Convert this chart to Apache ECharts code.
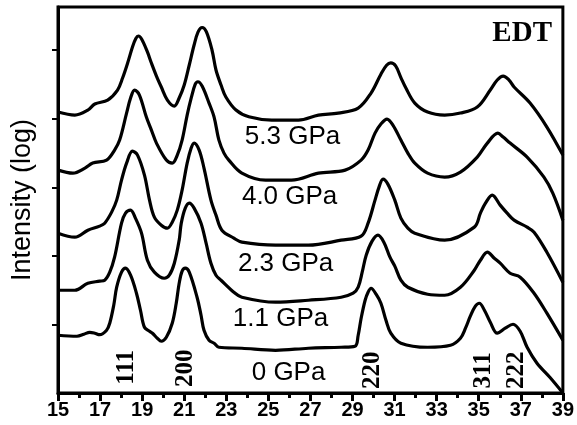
<!DOCTYPE html>
<html>
<head>
<meta charset="utf-8">
<script src="https://cdn.jsdelivr.net/npm/echarts@6/dist/echarts.min.js"></script>
<style>
html,body{margin:0;padding:0;background:#fff;}
#chart{width:577px;height:425px;}
</style>
</head>
<body>
<div id="chart"></div>
<script>
// 2theta (deg) vs log intensity (arbitrary offset units)
const curve_5_3GPa = [[15.00,4.098],[15.80,4.054],[16.42,4.127],[16.75,4.215],[17.36,4.273],[17.83,4.419],[18.07,4.594],[18.31,4.813],[18.54,5.047],[18.70,5.170],[18.82,5.207],[18.98,5.160],[19.25,4.974],[19.44,4.813],[19.68,4.623],[19.91,4.463],[20.20,4.273],[20.53,4.185],[20.76,4.302],[21.00,4.492],[21.24,4.784],[21.47,5.076],[21.66,5.266],[21.85,5.331],[22.05,5.270],[22.32,5.003],[22.51,4.711],[22.75,4.492],[22.98,4.317],[23.46,4.127],[24.07,4.029],[25.16,3.981],[26.43,3.981],[27.38,4.054],[28.32,4.083],[29.27,4.156],[29.88,4.375],[30.35,4.650],[30.62,4.780],[30.82,4.815],[31.05,4.770],[31.30,4.600],[31.55,4.440],[31.96,4.229],[32.57,4.098],[33.38,4.054],[34.13,4.083],[34.93,4.171],[35.55,4.419],[35.88,4.565],[36.16,4.623],[36.44,4.565],[36.68,4.463],[37.44,4.229],[38.24,3.879],[39.00,3.470]];
const curve_4_0GPa = [[15.00,3.251],[15.71,3.207],[16.28,3.280],[16.65,3.353],[17.31,3.397],[17.69,3.543],[17.93,3.689],[18.26,4.083],[18.45,4.302],[18.64,4.419],[18.87,4.346],[19.20,4.025],[19.44,3.835],[19.68,3.645],[20.15,3.397],[20.43,3.353],[20.67,3.470],[20.90,3.689],[21.14,4.054],[21.33,4.300],[21.52,4.500],[21.65,4.540],[21.85,4.477],[22.18,4.229],[22.42,4.025],[22.65,3.689],[22.89,3.499],[23.12,3.397],[23.74,3.207],[24.87,3.105],[26.10,3.105],[27.38,3.207],[28.65,3.251],[29.41,3.397],[29.74,3.543],[30.07,3.791],[30.35,3.923],[30.64,3.996],[30.92,3.908],[31.30,3.689],[31.63,3.499],[31.96,3.353],[32.57,3.207],[33.38,3.149],[34.13,3.222],[34.93,3.441],[35.41,3.645],[35.91,3.791],[36.16,3.733],[36.49,3.645],[37.30,3.441],[38.10,3.149],[38.52,2.915],[39.00,2.521]];
const curve_2_3GPa = [[15.00,2.331],[15.80,2.273],[16.42,2.375],[16.98,2.434],[17.22,2.477],[17.55,2.638],[17.79,2.813],[18.02,3.105],[18.26,3.353],[18.54,3.528],[18.78,3.470],[19.11,3.178],[19.35,2.813],[19.58,2.565],[19.91,2.448],[20.20,2.404],[20.43,2.492],[20.67,2.667],[20.90,2.959],[21.14,3.353],[21.33,3.572],[21.47,3.645],[21.71,3.543],[21.94,3.280],[22.27,2.813],[22.51,2.594],[22.79,2.375],[23.36,2.258],[23.74,2.200],[25.34,2.156],[26.90,2.156],[28.46,2.229],[29.41,2.288],[29.74,2.477],[30.07,2.813],[30.26,3.003],[30.45,3.120],[30.68,3.047],[31.01,2.813],[31.30,2.550],[31.63,2.404],[31.96,2.331],[33.38,2.229],[34.79,2.419],[35.08,2.623],[35.32,2.769],[35.64,2.886],[36.02,2.740],[36.35,2.623],[36.68,2.521],[37.30,2.419],[37.63,2.346],[38.24,2.054],[39.00,1.616]];
const curve_1_1GPa = [[15.00,1.499],[15.80,1.499],[16.42,1.601],[16.98,1.631],[17.22,1.645],[17.46,1.762],[17.69,1.981],[18.02,2.477],[18.21,2.623],[18.45,2.667],[18.68,2.550],[18.97,2.331],[19.25,1.937],[19.58,1.762],[20.05,1.674],[20.29,1.718],[20.53,1.893],[20.76,2.229],[20.86,2.477],[21.05,2.696],[21.24,2.769],[21.47,2.696],[21.80,2.477],[22.04,2.185],[22.27,1.893],[22.51,1.718],[22.75,1.645],[23.36,1.470],[23.74,1.397],[25.34,1.324],[26.90,1.353],[28.46,1.397],[29.03,1.455],[29.27,1.543],[29.46,1.762],[29.65,2.010],[29.93,2.215],[30.21,2.302],[30.49,2.200],[30.78,1.981],[31.01,1.850],[31.30,1.645],[31.63,1.543],[32.57,1.441],[33.38,1.426],[34.13,1.543],[34.79,1.791],[35.08,1.937],[35.41,2.054],[35.74,1.966],[36.02,1.893],[36.49,1.747],[36.97,1.689],[37.63,1.455],[38.24,1.164],[39.00,0.769]];
const curve_0GPa = [[15.00,0.842],[15.90,0.828],[16.23,0.857],[16.51,0.885],[16.75,0.872],[16.98,0.850],[17.31,0.915],[17.46,1.018],[17.65,1.280],[17.79,1.543],[18.02,1.762],[18.21,1.820],[18.45,1.718],[18.73,1.455],[18.92,1.207],[19.11,0.959],[19.35,0.901],[19.49,0.872],[19.72,0.799],[19.91,0.755],[20.15,0.813],[20.43,1.018],[20.62,1.309],[20.76,1.601],[20.90,1.777],[21.05,1.820],[21.24,1.762],[21.61,1.397],[21.80,1.134],[21.94,0.915],[22.18,0.769],[22.42,0.726],[22.65,0.667],[23.74,0.653],[25.34,0.623],[26.90,0.653],[28.46,0.667],[29.12,0.682],[29.27,0.842],[29.41,1.091],[29.60,1.353],[29.74,1.470],[29.88,1.528],[30.12,1.441],[30.35,1.309],[30.59,1.061],[30.82,0.872],[31.30,0.726],[32.57,0.667],[33.66,0.696],[34.13,0.799],[34.37,0.945],[34.60,1.120],[34.84,1.266],[35.03,1.309],[35.27,1.207],[35.55,1.032],[35.88,0.872],[36.26,0.945],[36.63,1.003],[36.97,0.901],[37.30,0.667],[37.77,0.434],[38.38,0.229],[39.00,0.000]];

const pressureLabels = ['5.3 GPa','4.0 GPa','2.3 GPa','1.1 GPa','0 GPa'];
const pressureLabelPos = [[26.15,3.73],[26.01,2.86],[25.82,1.88],[25.58,1.08],[25.96,0.30]];
const peakLabels = ['111','200','220','311','222'];
const peakLabelPos = [[18.26,0.375],[21.05,0.36],[29.95,0.33],[35.24,0.33],[36.80,0.33]];
const xTicks = {min:15, max:39, interval:2};
const yTickValues = [1,2,3,4,5];
const yMax = 5.63;
const sampleName = 'EDT';
const yTitle = 'Intensity (log)';

const chart = echarts.init(document.getElementById('chart'), null, {renderer:'canvas'});
const curves = [curve_5_3GPa, curve_4_0GPa, curve_2_3GPa, curve_1_1GPa, curve_0GPa];
const series = curves.map((c,i)=>({
  type:'line', name:pressureLabels[i], data:c, showSymbol:false, smooth:0.35,
  lineStyle:{color:'#000', width:3.2}, silent:true, z:3
}));
series.push({
  type:'scatter', symbolSize:0, silent:true, itemStyle:{opacity:1},
  data: pressureLabelPos.map((p,i)=>({value:p, name:pressureLabels[i]})),
  label:{show:true, position:'inside', formatter:'{b}', color:'#000', opacity:1,
    fontFamily:'Liberation Sans, Arial, sans-serif', fontSize:26}
});
series.push({
  type:'scatter', symbolSize:0, silent:true, itemStyle:{opacity:1},
  data: peakLabelPos.map((p,i)=>({value:p, name:peakLabels[i]})),
  label:{show:true, position:'inside', formatter:'{b}', color:'#000', rotate:90, opacity:1,
    fontFamily:'Liberation Serif, Times New Roman, serif', fontWeight:'bold', fontSize:25}
});

chart.setOption({
  animation:false,
  backgroundColor:'#fff',
  grid:{left:58, right:10, top:7, bottom:32, show:true, borderColor:'#000', borderWidth:3, containLabel:false},
  xAxis:{type:'value', min:xTicks.min, max:xTicks.max, interval:xTicks.interval,
    axisLine:{show:true, onZero:false, lineStyle:{color:'#000', width:3}},
    axisTick:{show:true, inside:false, length:8, lineStyle:{color:'#000', width:3}},
    minorTick:{show:true, splitNumber:2, length:5, lineStyle:{color:'#000', width:3}},
    splitLine:{show:false},
    axisLabel:{color:'#000', fontFamily:'Liberation Sans, Arial, sans-serif', fontWeight:'bold', fontSize:20, margin:7}
  },
  yAxis:{type:'value', min:0, max:yMax,
    name:yTitle, nameLocation:'middle', nameGap:22,
    nameTextStyle:{color:'#000', fontFamily:'Liberation Sans, Arial, sans-serif', fontSize:27},
    axisLine:{show:true, onZero:false, lineStyle:{color:'#000', width:3}},
    axisTick:{show:true, inside:false, length:6, customValues:yTickValues, lineStyle:{color:'#000', width:2}},
    axisLabel:{show:false},
    splitLine:{show:false}
  },
  graphic:[{type:'text', right:25, top:19, style:{text:sampleName, fill:'#000',
    font:'bold 29px "Liberation Serif", "Times New Roman", serif'}}],
  series:series
});
</script>
</body>
</html>
